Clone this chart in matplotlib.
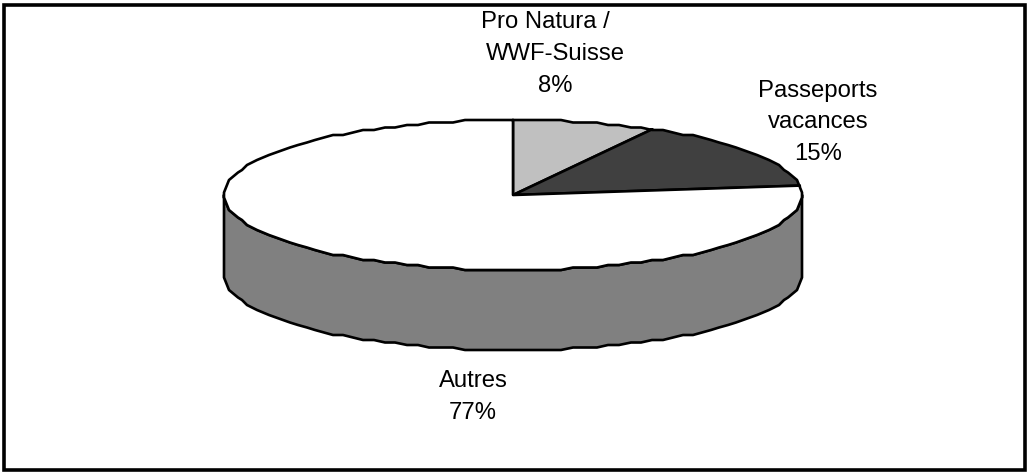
import numpy as np
import matplotlib.pyplot as plt
from matplotlib.patches import Polygon, Rectangle

plt.rcParams['font.family'] = ['Liberation Sans', 'DejaVu Sans']

labels = ["Pro Natura /   \nWWF-Suisse", "Passeports\nvacances", "Autres"]
values = [8, 15, 77]

top_colors = ['#c0c0c0', '#404040', '#ffffff']
side_color = '#808080'
label_pos = [(555, 54), (818, 122.5), (473, 397)]

cx, cy = 513, 195
rx, ry = 289, 75
depth = 80
y_grid = 2.5  # the original outline is stair-stepped


def edge(a0, a1, dy=0):
    # angles clockwise from the top of the pie, in degrees
    steps = np.arange(np.ceil(a0 / 2.4), np.floor(a1 / 2.4) + 1) * 2.4
    ang = np.radians(steps)
    x = np.round(cx + rx * np.sin(ang))
    y = np.round((cy - ry * np.cos(ang) + dy) / y_grid) * y_grid
    pts = list(zip(x, y))
    first = np.radians(a0)
    last = np.radians(a1)
    pts.insert(0, (cx + rx * np.sin(first), cy - ry * np.cos(first) + dy))
    pts.append((cx + rx * np.sin(last), cy - ry * np.cos(last) + dy))
    return pts


fig = plt.figure(figsize=(10.27, 4.72), dpi=100)
ax = fig.add_axes([0, 0, 1, 1])
ax.set_xlim(0, 1027)
ax.set_ylim(472, 0)
ax.axis('off')

ax.add_patch(Rectangle((4, 4.5), 1021, 465.5, fc='white', ec='black', lw=2.6, zorder=0))

bounds = np.cumsum([0] + values) * 3.6
line = dict(ec='black', lw=1.9, joinstyle='round')

# side wall, only the front half of the pie shows
lower = edge(90, 270)
upper = edge(90, 270, depth)
ax.add_patch(Polygon(lower + upper[::-1], closed=True, fc=side_color, zorder=1, **line))

for i in range(len(values)):
    pts = [(cx, cy)] + edge(bounds[i], bounds[i + 1])
    ax.add_patch(Polygon(pts, closed=True, fc=top_colors[i], zorder=2, **line))

for i in range(len(values)):
    ax.text(label_pos[i][0], label_pos[i][1], f"{labels[i]}\n{values[i]}%", ha='center', va='center',
            fontsize=17.2, linespacing=1.56, color='black', zorder=3)

fig.savefig('out.png', dpi=100)
